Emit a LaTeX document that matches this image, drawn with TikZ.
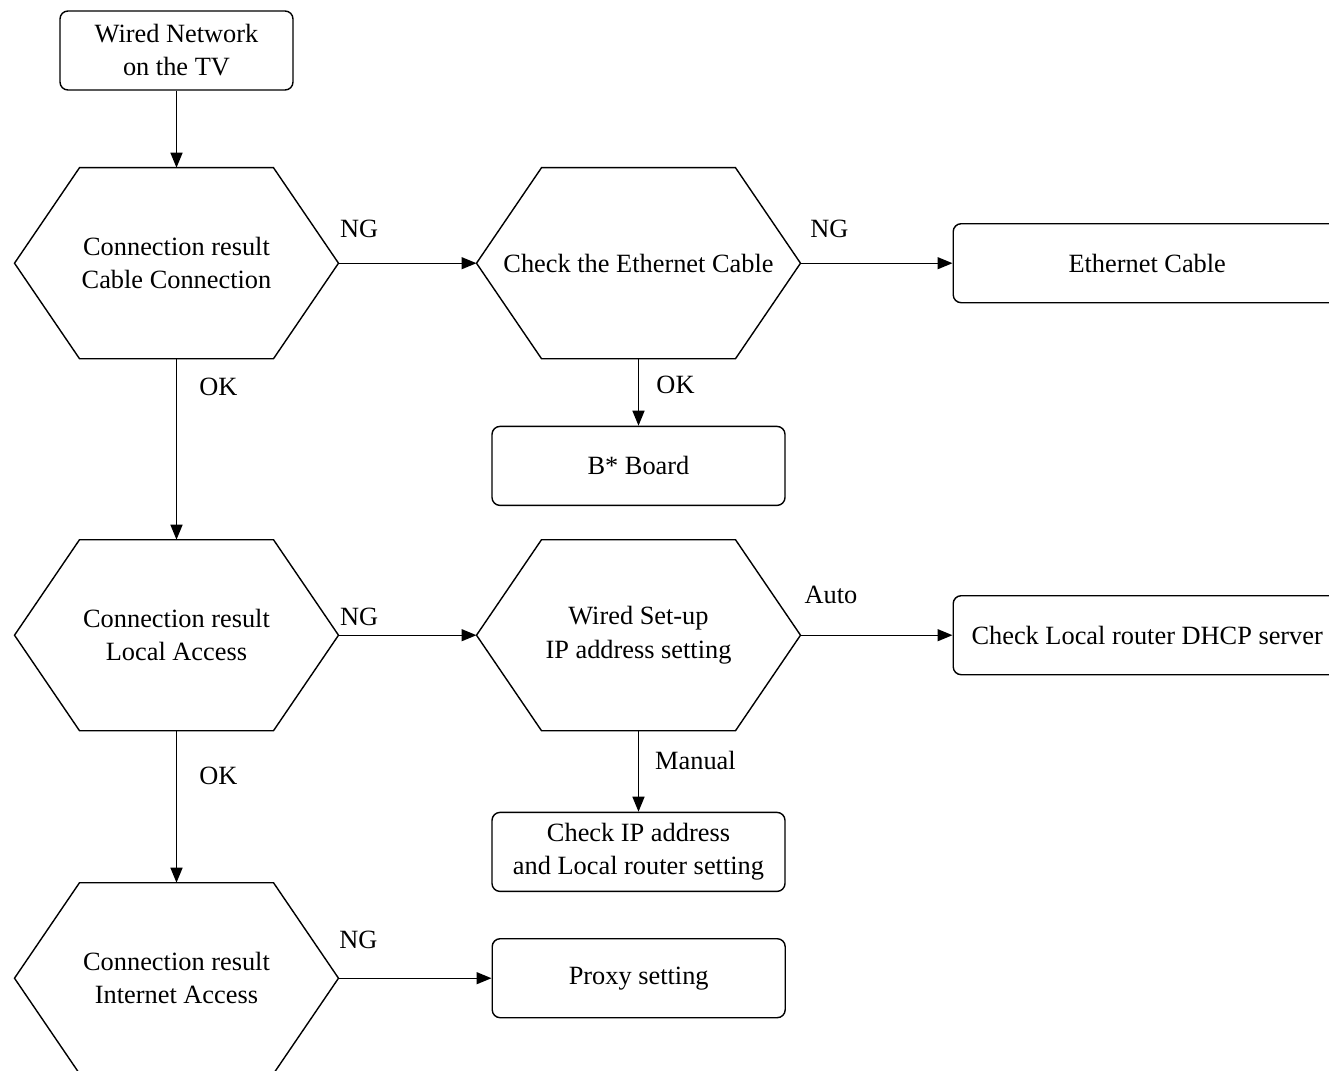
\documentclass[tikz,border=0pt]{standalone}
\usepackage{fontspec}
\setmainfont{Liberation Serif}
\usetikzlibrary{positioning, arrows.meta}
\tikzstyle{startstop} = [
    rectangle,
    rounded corners=0.16cm,
    minimum width=4.66cm,
    minimum height=1.58cm,
    inner sep=2pt,
    align=center,
    line width=0.8pt,
    draw=black
]
\tikzstyle{decision} = [
    rectangle,
    minimum width=6.48cm,
    minimum height=3.82cm,
    inner sep=2pt,
    outer sep=0pt,
    align=center
]
\tikzstyle{hexline} = [line width=0.8pt, line join=miter]
\tikzstyle{process} = [
    rectangle,
    rounded corners=0.16cm,
    minimum width=5.86cm,
    minimum height=1.58cm,
    inner sep=2pt,
    align=center,
    line width=0.8pt,
    draw=black
]
\tikzstyle{widebox} = [process, minimum width=7.76cm]
\tikzstyle{arrow} = [line width=0.8pt,-{Triangle[length=0.3cm,width=0.24cm]}]
\tikzstyle{lbl} = [inner sep=0pt]

\begin{document}
\begin{tikzpicture}[font=\fontsize{15}{18.8}\selectfont]

\clip (0,0) rectangle (26.58,-21.42);

\node (wired) [startstop] at (3.53,-1.01)
{Wired Network\\on the TV};

\node (cableres) [decision, below=1.54cm of wired]
{Connection result\\Cable Connection};

\node (ethcheck) [decision, right=2.76cm of cableres]
{Check the Ethernet Cable};

\node (ethcable) [widebox, right=3.04cm of ethcheck]
{Ethernet Cable};

\node (bboard) [process, below=1.34cm of ethcheck]
{B* Board};

\node (localres) [decision, below=3.62cm of cableres]
{Connection result\\Local Access};

\node (ipsetup) [decision, right=2.76cm of localres]
{Wired Set-up\\IP address setting};

\node (dhcp) [widebox, right=3.04cm of ipsetup]
{Check Local router DHCP server};

\node (ipcheck) [process, below=1.62cm of ipsetup]
{Check IP address\\and Local router setting};

\node (inetres) [decision, below=3.04cm of localres]
{Connection result\\Internet Access};

\node (proxy) [process, right=3.06cm of inetres]
{Proxy setting};

% hexagon outlines
\foreach \h in {cableres, ethcheck, localres, ipsetup, inetres} {
    \draw [hexline] (\h.west) -- ([xshift=1.3cm]\h.north west)
        -- ([xshift=-1.3cm]\h.north east) -- (\h.east)
        -- ([xshift=-1.3cm]\h.south east) -- ([xshift=1.3cm]\h.south west)
        -- cycle;
}

\draw [arrow] (wired) -- (cableres);
\draw [arrow] (cableres) -- node[lbl, pos=0.15, yshift=0.68cm] {NG} (ethcheck);
\draw [arrow] (ethcheck) -- node[lbl, pos=0.19, yshift=0.68cm] {NG} (ethcable);
\draw [arrow] (ethcheck) -- node[lbl, pos=0.39, xshift=0.74cm] {OK} (bboard);
\draw [arrow] (cableres) -- node[lbl, pos=0.155, xshift=0.84cm] {OK} (localres);
\draw [arrow] (localres) -- node[lbl, pos=0.15, yshift=0.36cm] {NG} (ipsetup);
\draw [arrow] (ipsetup) -- node[lbl, pos=0.2, yshift=0.8cm] {Auto} (dhcp);
\draw [arrow] (ipsetup) -- node[lbl, pos=0.37, xshift=1.14cm] {Manual} (ipcheck);
\draw [arrow] (localres) -- node[lbl, pos=0.3, xshift=0.84cm] {OK} (inetres);
\draw [arrow] (inetres) -- node[lbl, pos=0.13, yshift=0.76cm] {NG} (proxy);

\end{tikzpicture}
\end{document}
